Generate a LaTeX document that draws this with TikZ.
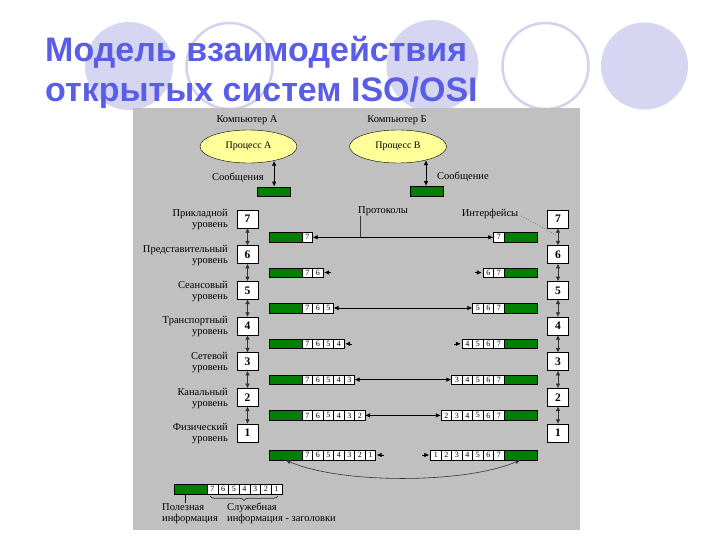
\documentclass[tikz,border=0pt]{standalone}
\usepackage{fontspec}
\setmainfont{Liberation Serif}
\newfontfamily\titlefont{Liberation Sans}
\usetikzlibrary{arrows.meta,decorations.pathreplacing,shapes.geometric}
\definecolor{bggray}{HTML}{C0C0C0}
\definecolor{pktgreen}{HTML}{008000}
\definecolor{procyellow}{HTML}{FFFF99}
\definecolor{lavfill}{HTML}{D6D6F2}
\definecolor{lavline}{HTML}{D2D2EE}
\definecolor{titleblue}{HTML}{5A5EE4}
\tikzset{
  lbl/.style={font=\fontsize{10.5}{11}\selectfont, inner sep=0pt},
  numbox/.style={draw=black, fill=white, minimum width=21pt, minimum height=18pt, inner sep=0pt, font=\bfseries\fontsize{11.5}{12}\selectfont},
  cellbox/.style={draw=black, line width=0.4pt, fill=white, minimum width=10.5pt, minimum height=9.5pt, inner sep=0pt, font=\fontsize{8}{8}\selectfont},
  lcell/.style={cellbox, minimum width=10.7pt},
  gbar/.style={draw=black, line width=0.4pt, fill=pktgreen, minimum width=33pt, minimum height=9.5pt, inner sep=0pt},
  proc/.style={ellipse, draw=black, fill=procyellow, minimum width=97pt, minimum height=33pt, inner sep=0pt, font=\fontsize{10}{11}\selectfont},
  varrow/.style={{Latex[length=4.5pt,width=4.5pt]}-{Latex[length=4.5pt,width=4.5pt]}, line width=0.5pt, draw=black!80},
  harrow/.style={{Latex[length=5pt,width=4.5pt]}-{Latex[length=5pt,width=4.5pt]}, line width=0.6pt, draw=black},
  stub/.style={-{Latex[length=5pt,width=4.5pt]}, line width=0.6pt, draw=black, shorten >=1pt},
  msgarrow/.style={{Latex[length=5pt,width=4.5pt]}-{Latex[length=5pt,width=4.5pt]}, line width=0.8pt},
}
\begin{document}
\begin{tikzpicture}[x=1pt,y=-1pt]
\useasboundingbox (0,0) rectangle (720,540);
\fill[white] (0,0) rectangle (720,540);
% background circles
\fill[lavfill] (129,66) circle (44);
\draw[lavline, line width=2.5pt] (229.5,66) circle (43);
\fill[lavfill] (432.5,66) circle (46);
\draw[lavline, line width=2.5pt] (545.5,66) circle (43);
\fill[lavfill] (644.5,66) circle (43.5);
% title
\node[anchor=base west, inner sep=0pt, text=titleblue, font=\titlefont\bfseries\fontsize{34}{40}\selectfont] (t1) at (45,62) {Модель взаимодействия};
\node[anchor=base west, inner sep=0pt, text=titleblue, font=\titlefont\bfseries\fontsize{34}{40}\selectfont] (t2) at (45,102) {открытых систем ISO/OSI};
% diagram background
\fill[bggray] (133,108) rectangle (580,530);
% computers and processes
\node[lbl] (ca) at (247,120) {Компьютер А};
\node[lbl] (cb) at (397,120) {Компьютер Б};
\node[proc] (PA) at (248.5,146.5) {Процесс А};
\node[proc] (PB) at (398,146.5) {Процесс В};
\node[gbar] (MA) at (273.5,191.5) {};
\node[gbar] (MB) at (426.5,191) {};
\draw[msgarrow] (PA.-29) -- (PA.-29 |- MA.north);
\draw[msgarrow] (PB.-26) -- (PB.-26 |- MB.north);
\node[lbl, anchor=east] (msga) at (264,178) {Сообщения};
\node[lbl, anchor=west] (msgb) at (437,177) {Сообщение};
% level boxes and labels
\foreach \k/\nm in {7/Прикладной,6/Представительный,5/Сеансовый,4/Транспортный,3/Сетевой,2/Канальный,1/Физический} {
  \pgfmathsetmacro\yy{219+(7-\k)*35.67}
  \node[numbox] (LB\k) at (247.5,\yy) {\k};
  \node[numbox] (RB\k) at (558,\yy) {\k};
  \node[lbl, anchor=east, align=right] (LL\k) at (228,\yy+1) {\nm\\уровень};
}
\foreach \k in {2,...,7} {
  \pgfmathtruncatemacro\j{\k-1}
  \draw[varrow] (LB\k.south) -- (LB\j.north);
  \draw[varrow] (RB\k.south) -- (RB\j.north);
}
% packets
\foreach \rr/\yy in {7/237.3,6/272.5,5/308,4/343.8,3/379.6,2/415.4,1/455} {
  \pgfmathtruncatemacro\nn{7-\rr}
  \node[gbar] (Lg\rr) at (285.5,\yy) {};
  \node[gbar] (Rg\rr) at (520.5,\yy) {};
  \foreach \i in {0,...,\nn} {
    \pgfmathtruncatemacro\lab{7-\i}
    \node[cellbox] (L\rr-\i) at (307.25+10.5*\i,\yy) {\lab};
    \node[cellbox] (R\rr-\i) at (498.75-10.5*\i,\yy) {\lab};
  }
}
\foreach \rr in {7,5,3,2} {
  \pgfmathtruncatemacro\nn{7-\rr}
  \draw[harrow] (L\rr-\nn.east) -- (R\rr-\nn.west);
}
\foreach \rr in {6,4,1} {
  \pgfmathtruncatemacro\nn{7-\rr}
  \coordinate (Ls\rr) at ([xshift=8pt]L\rr-\nn.east);
  \coordinate (Rs\rr) at ([xshift=-8pt]R\rr-\nn.west);
  \draw[stub] (Ls\rr) -- (L\rr-\nn.east);
  \draw[stub] (Rs\rr) -- (R\rr-\nn.west);
}
% physical medium curve
\draw[harrow, line width=0.6pt, draw=black!80] (Lg1.south) .. controls (340,484) and (465,484) .. (Rg1.south);
% protocols / interfaces
\node[lbl] (prot) at (383,211) {Протоколы};
\coordinate (pt) at (360,216);
\draw[line width=0.6pt, black!80] (pt) -- (pt |- L7-0.east);
\node[lbl] (intf) at (490,214) {Интерфейсы};
\coordinate (ie) at (556,235);
\draw[dotted, line width=0.6pt, black!70] ([xshift=3pt,yshift=-2pt]intf.east) -- (ie);
% legend
\node[gbar] (legG) at (190.5,489) {};
\foreach \i in {0,...,6} {
  \pgfmathtruncatemacro\lab{7-\i}
  \node[lcell] (leg\i) at (212.35+10.7*\i,489) {\lab};
}
\coordinate (lgd) at (185,503);
\draw[line width=0.6pt] (legG.south -| lgd) -- (lgd);
\draw[decorate, decoration={brace, mirror, amplitude=4.5pt}, draw=black!80, line width=0.7pt] (210,496) -- (278,496);
\node[lbl, anchor=north west, align=left] (useful) at (162,503) {Полезная\\информация};
\node[lbl, anchor=north west, align=left] (service) at (227,503) {Служебная\\информация - заголовки};
\end{tikzpicture}
\end{document}
